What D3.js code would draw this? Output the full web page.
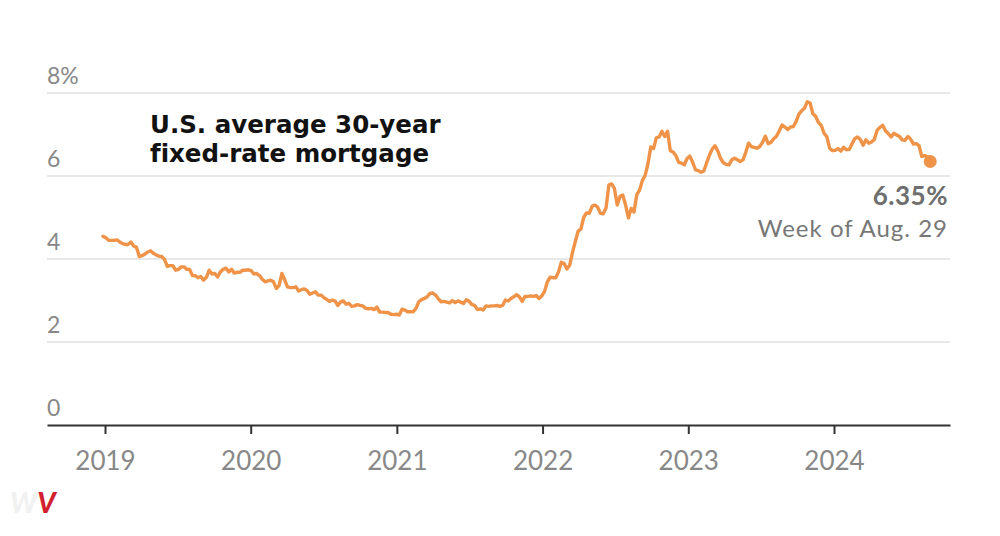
<!DOCTYPE html>
<html>
<head>
<meta charset="utf-8">
<script src="https://cdn.jsdelivr.net/npm/d3@7"></script>
<style>
  html, body { margin: 0; padding: 0; background: #fff; }
  svg { display: block; font-family: Lato, "Noto Sans", sans-serif; font-variant-ligatures: none; }
</style>
</head>
<body>
<svg width="1000" height="536"></svg>
<script>
// Weekly 30-year fixed rate (%), one array per year, first week = Dec. 27, 2018
const firstWeek = new Date(2018, 11, 27);
const rates2018 = [4.55];
const rates2019 = [4.51, 4.45, 4.45, 4.45, 4.46, 4.41, 4.37, 4.35, 4.35, 4.41, 4.31, 4.28, 4.06,
  4.08, 4.12, 4.17, 4.20, 4.14, 4.10, 4.07, 4.06, 3.99, 3.82, 3.84, 3.84, 3.73,
  3.75, 3.81, 3.81, 3.75, 3.75, 3.60, 3.60, 3.55, 3.58, 3.49, 3.56, 3.73, 3.64,
  3.65, 3.57, 3.69, 3.75, 3.78, 3.69, 3.75, 3.66, 3.68, 3.68, 3.73, 3.73, 3.74];
const rates2020 = [3.72, 3.64, 3.65, 3.60, 3.51, 3.45, 3.47, 3.49, 3.45, 3.29, 3.36, 3.65, 3.50,
  3.33, 3.31, 3.31, 3.33, 3.23, 3.26, 3.28, 3.24, 3.15, 3.18, 3.21, 3.13, 3.13,
  3.07, 3.03, 2.98, 3.01, 2.99, 2.88, 2.96, 2.99, 2.91, 2.93, 2.86, 2.87, 2.90,
  2.88, 2.87, 2.81, 2.80, 2.81, 2.78, 2.84, 2.72, 2.72, 2.71, 2.71, 2.67, 2.66, 2.67];
const rates2021 = [2.65, 2.79, 2.77, 2.73, 2.73, 2.73, 2.81, 2.97, 3.02, 3.05, 3.09, 3.17,
  3.18, 3.13, 3.04, 2.97, 2.98, 2.96, 2.94, 3.00, 2.95, 2.99, 2.96, 2.93, 3.02,
  2.98, 2.90, 2.88, 2.78, 2.80, 2.77, 2.87, 2.86, 2.87, 2.87, 2.88, 2.86, 2.88, 3.01,
  2.99, 3.05, 3.09, 3.14, 3.09, 2.98, 3.10, 3.10, 3.11, 3.10, 3.12, 3.05, 3.11];
const rates2022 = [3.22, 3.45, 3.56, 3.55, 3.55, 3.69, 3.92, 3.89, 3.76, 3.85, 4.16, 4.42, 4.67,
  4.72, 5.00, 5.11, 5.10, 5.27, 5.30, 5.25, 5.10, 5.09, 5.23, 5.78, 5.81, 5.70,
  5.30, 5.51, 5.54, 5.30, 4.99, 5.22, 5.13, 5.55, 5.66, 5.89, 6.02, 6.29, 6.70,
  6.66, 6.92, 6.94, 7.08, 6.95, 7.08, 6.61, 6.58, 6.49, 6.33, 6.31, 6.27, 6.42];
const rates2023 = [6.48, 6.33, 6.15, 6.13, 6.09, 6.12, 6.32, 6.50, 6.65, 6.73, 6.60, 6.42, 6.32,
  6.28, 6.27, 6.39, 6.43, 6.39, 6.35, 6.39, 6.57, 6.79, 6.71, 6.69, 6.67, 6.71,
  6.81, 6.96, 6.78, 6.81, 6.90, 6.96, 7.09, 7.23, 7.18, 7.12, 7.18, 7.19, 7.31,
  7.49, 7.57, 7.63, 7.79, 7.76, 7.50, 7.44, 7.29, 7.22, 7.03, 6.95, 6.67, 6.61];
const rates2024 = [6.62, 6.66, 6.60, 6.69, 6.63, 6.64, 6.77, 6.90, 6.94, 6.88, 6.74, 6.87, 6.79,
  6.82, 6.88, 7.10, 7.17, 7.22, 7.09, 7.02, 6.94, 7.03, 6.99, 6.95, 6.87, 6.86,
  6.95, 6.89, 6.77, 6.78, 6.73, 6.47, 6.49, 6.46, 6.35];

const yTicks = [0, 2, 4, 6, 8];
const xYears = [2019, 2020, 2021, 2022, 2023, 2024];
const titleLines = ["U.S. average 30-year", "fixed-rate mortgage"];
const lastLabel = "6.35%";
const lastDate = "Week of Aug. 29";

const rates = [].concat(rates2018, rates2019, rates2020, rates2021, rates2022, rates2023, rates2024);
const data = rates.map((v, i) => ({ date: d3.timeDay.offset(firstWeek, 7 * i), value: v }));

const svg = d3.select("svg");
const plotLeft = 47, plotRight = 950, plotBottom = 425, plotTop = 93;

// x: Jan 1 2019 sits at 105px, Jan 1 2024 at 834px
const x = d3.scaleTime()
  .domain([new Date(2019, 0, 1), new Date(2024, 0, 1)])
  .range([105, 834]);
x.domain([x.invert(plotLeft), x.invert(plotRight)]).range([plotLeft, plotRight]);

const y = d3.scaleLinear().domain([0, 8]).range([plotBottom, plotTop]);

// gridlines
svg.append("g")
  .selectAll("line")
  .data(yTicks.filter(d => d > 0))
  .enter().append("line")
  .attr("x1", plotLeft).attr("x2", plotRight)
  .attr("y1", d => y(d)).attr("y2", d => y(d))
  .attr("stroke", "#e0e0e0")
  .attr("stroke-width", 1.5);

// y labels
svg.append("g")
  .selectAll("text")
  .data(yTicks)
  .enter().append("text")
  .attr("x", plotLeft)
  .attr("y", d => y(d) - 9)
  .attr("fill", "#888")
  .style("font-size", "23px")
  .text(d => d === 8 ? d + "%" : d);

// x axis
const xAxis = svg.append("g")
  .attr("transform", `translate(0,${plotBottom})`)
  .call(d3.axisBottom(x)
    .tickValues(xYears.map(yr => new Date(yr, 0, 1)))
    .tickFormat(d3.timeFormat("%Y"))
    .tickSize(9)
    .tickSizeOuter(0)
    .tickPadding(18));
xAxis.select(".domain").attr("stroke", "#333").attr("stroke-width", 2);
xAxis.selectAll(".tick line").attr("stroke", "#333").attr("stroke-width", 2);
xAxis.selectAll(".tick text")
  .attr("fill", "#888")
  .style("font-size", "26px")
  .style("font-family", "Lato, 'Noto Sans', sans-serif");

// line
const line = d3.line()
  .x(d => x(d.date))
  .y(d => y(d.value));

svg.append("path")
  .datum(data)
  .attr("d", line)
  .attr("fill", "none")
  .attr("stroke", "#ef9349")
  .attr("stroke-width", 3.4)
  .attr("stroke-linejoin", "round")
  .attr("stroke-linecap", "round");

const last = data[data.length - 1];
svg.append("circle")
  .attr("cx", x(last.date))
  .attr("cy", y(last.value))
  .attr("r", 6.5)
  .attr("fill", "#ef9349");

// title
svg.append("g")
  .selectAll("text")
  .data(titleLines)
  .enter().append("text")
  .attr("x", 150)
  .attr("y", (d, i) => 133 + i * 29)
  .attr("fill", "#121212")
  .style("font-family", "'DejaVu Sans', Lato, sans-serif")
  .style("font-size", "24.5px")
  .style("font-weight", "bold")
  .text(d => d);

// end annotation
svg.append("text")
  .attr("x", 948).attr("y", 205)
  .attr("text-anchor", "end")
  .attr("fill", "#6e6e6e")
  .style("font-size", "26px")
  .style("font-weight", "bold")
  .style("letter-spacing", "0.5px")
  .text(lastLabel);
svg.append("text")
  .attr("x", 948).attr("y", 237)
  .attr("text-anchor", "end")
  .attr("fill", "#777")
  .style("font-size", "24px")
  .style("letter-spacing", "1px")
  .text(lastDate);

// watermark
const mark = svg.append("text")
  .attr("x", 10).attr("y", 513)
  .style("font-size", "28px")
  .style("font-weight", "900")
  .style("font-style", "italic");
mark.append("tspan").attr("fill", "#f1f1f1").text("W");
mark.append("tspan").attr("fill", "#d21f30").text("V");
</script>
</body>
</html>
